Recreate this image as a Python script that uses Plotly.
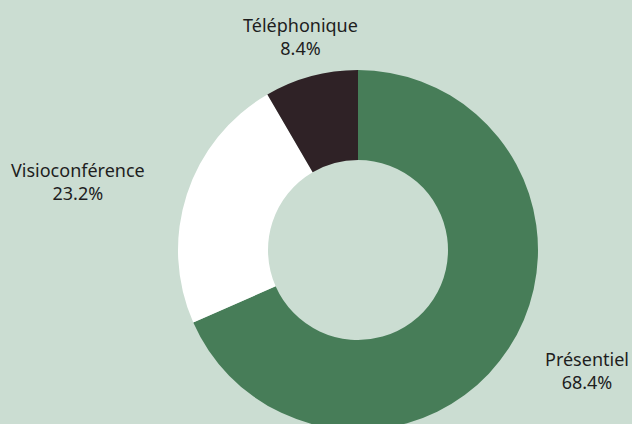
import math
import plotly.graph_objects as go

labels = ["Présentiel", "Visioconférence", "Téléphonique"]
values = [68.4, 23.2, 8.4]
colors = ["#477d58", "#ffffff", "#2f2226"]

W, H = 632, 440
dom_x = [178 / W, 538 / W]
dom_y = [10 / H, 370 / H]

fig = go.Figure(go.Pie(
    labels=labels,
    values=values,
    hole=0.5,
    sort=False,
    direction="clockwise",
    rotation=0,
    marker=dict(colors=colors, line=dict(width=0)),
    textinfo="none",
    showlegend=False,
    hoverinfo="skip",
    domain=dict(x=dom_x, y=dom_y),
))

# label placement derived from slice mid-angles
cx = (dom_x[0] + dom_x[1]) / 2 * W
cy = (dom_y[0] + dom_y[1]) / 2 * H
radius = (dom_x[1] - dom_x[0]) * W / 2
rl = radius * 1.23
total = sum(values)
cum = 0
for lab, v in zip(labels, values):
    th = 2 * math.pi * (cum + v / 2) / total
    cum += v
    s, c = math.sin(th), math.cos(th)
    px = cx + rl * s
    py = cy + rl * c
    xa = "left" if s > 0.3 else ("right" if s < -0.3 else "center")
    fig.add_annotation(
        x=px / W, y=py / H, xref="paper", yref="paper",
        xanchor=xa, yanchor="middle", align="center",
        text=f"{lab}<br>{v / total * 100:.1f}%",
        showarrow=False,
        font=dict(family="Noto Sans", size=18, color="#1e1e1e"),
    )

fig.update_layout(
    width=W,
    height=H,
    margin=dict(l=0, r=0, t=0, b=0),
    paper_bgcolor="#cbddd2",
    plot_bgcolor="#cbddd2",
)

fig.write_html(
    "out.html",
    config={"displayModeBar": False},
    post_script="document.body.style.margin='0px';document.body.style.overflow='hidden';",
)
